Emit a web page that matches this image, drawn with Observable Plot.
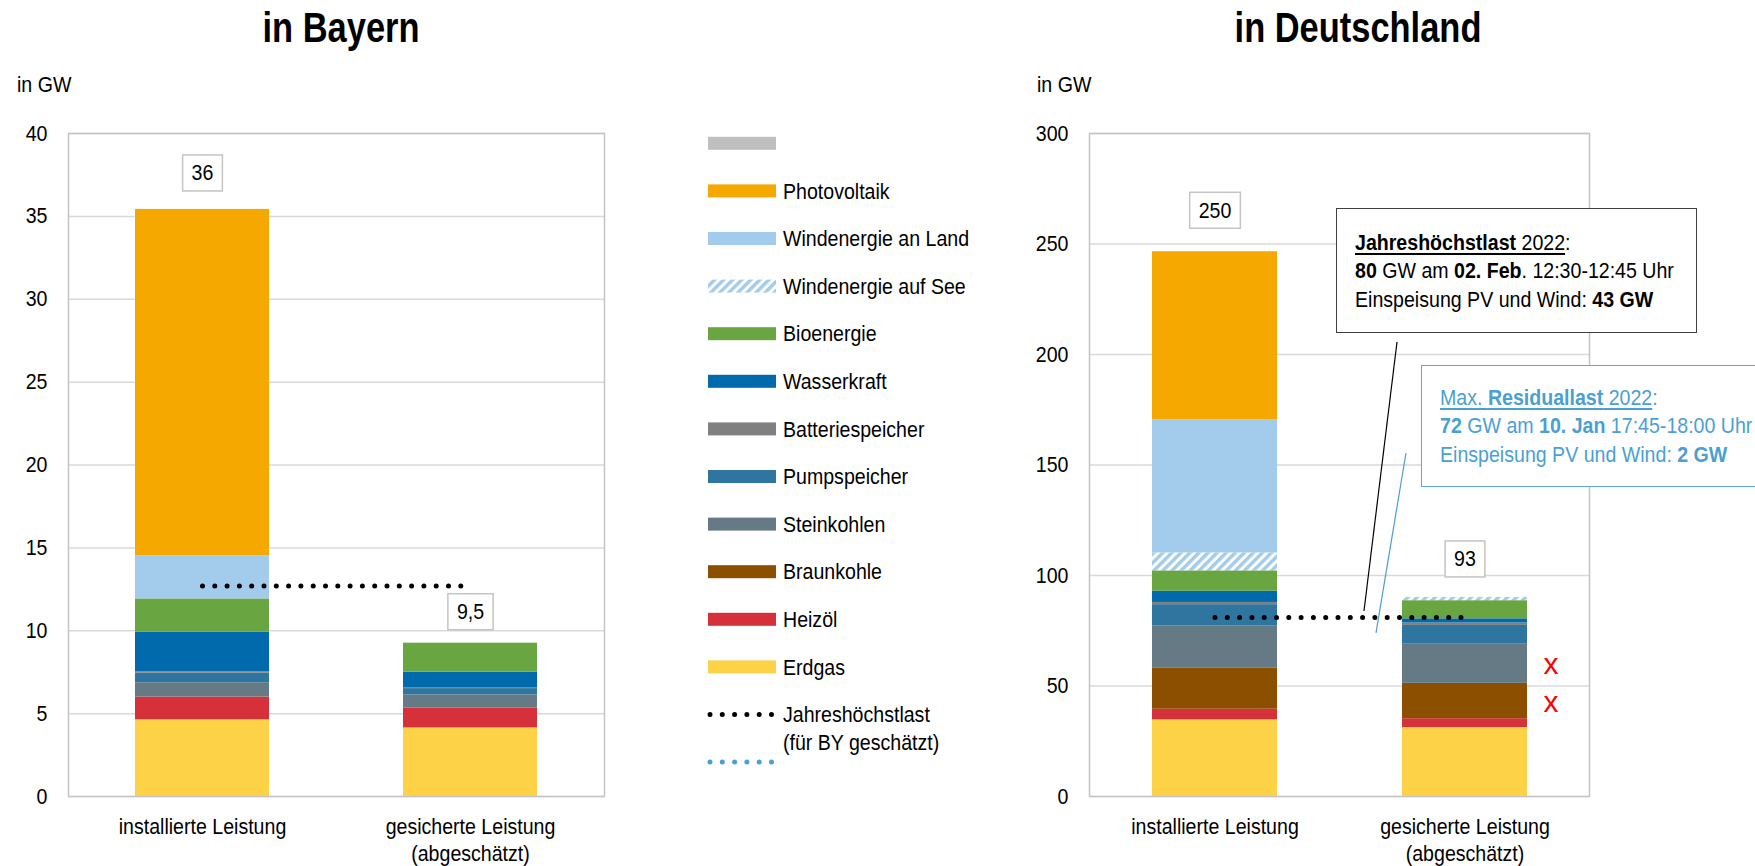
<!DOCTYPE html>
<html><head><meta charset="utf-8">
<script src="https://cdn.jsdelivr.net/npm/d3@7"></script>
<script src="https://cdn.jsdelivr.net/npm/@observablehq/plot@0.6"></script>
<style>
body{margin:0;background:#fff;}
#page{position:relative;width:1755px;height:866px;overflow:hidden;font-family:"Liberation Sans",Arial,sans-serif;color:#000;}
.abs{position:absolute;}
.title{font-weight:bold;font-size:42px;line-height:50px;text-align:center;width:500px;transform:scaleX(0.82);transform-origin:center;}
.unit{font-size:22px;line-height:28px;transform:scaleX(0.89);transform-origin:left;}
.note{box-sizing:border-box;background:#fff;font-size:22px;line-height:28.5px;white-space:nowrap;}
.note .in{display:inline-block;transform:scaleX(0.89);transform-origin:left top;}
.note u{text-decoration-thickness:1.5px;text-underline-offset:3px;}
</style></head><body><div id="page"></div>
<script>
const FONT = '"Liberation Sans",Arial,sans-serif';
const SQ = 0.89; // horizontal squeeze to mimic the narrow typeface

// ---- data ----
const bars = ["installierte Leistung", "gesicherte Leistung\n(abgeschätzt)"];
const sources = ["Erdgas","Heizöl","Braunkohle","Steinkohlen","Pumpspeicher","Batteriespeicher","Wasserkraft","Bioenergie","Windenergie auf See","Windenergie an Land","Photovoltaik"];
const colors  = ["#fdd247","#d6303a","#8c4f00","#667a86","#2e75a0","#808080","#006aad","#69a541","url(#hatch)","#a2cbec","#f5a800"];
const bayernInstalliert = [4.63, 1.37, 0, 0.86, 0.58, 0.08, 2.4, 2.0, 0, 2.6, 20.9];
const bayernGesichert   = [4.14, 1.19, 0, 0.80, 0.38, 0.06, 0.93, 1.75, 0, 0, 0];
const deInstalliert     = [34.7, 4.8, 18.5, 19.1, 9.7, 1.0, 5.1, 9.2, 8.1, 60.3, 76.0];
const deGesichert       = [31.2, 4.0, 16.0, 17.7, 8.5, 1.1, 1.9, 8.2, 1.5, 0, 0];
const bayernLabels = ["36", "9,5"];
const deLabels = ["250", "93"];
const bayernLast = 12.7;   // Jahreshöchstlast (geschätzt)
const deLast = 81;         // Jahreshöchstlast 2022
const deResidual = 72;     // Max. Residuallast 2022
const crossedOut = ["Steinkohlen", "Braunkohle"];
const bayernTicks = [0,5,10,15,20,25,30,35,40];
const deTicks = [0,50,100,150,200,250,300];

const page = document.getElementById("page");
function add(html, cls, css){ const d=document.createElement("div"); d.className="abs "+(cls||""); d.innerHTML=html; Object.assign(d.style, css); page.appendChild(d); return d; }
function squeeze(t, s){
  const x = +(t.getAttribute("x")||0);
  const tr = t.getAttribute("transform")||"";
  t.setAttribute("transform", `${tr} translate(${x},0) scale(${s},1) translate(${-x},0)`);
}

// hatch pattern
add(`<svg width="0" height="0" style="position:absolute"><defs><pattern id="hatch" patternUnits="userSpaceOnUse" width="6.4" height="6.4" patternTransform="rotate(45)"><rect width="6.4" height="6.4" fill="#fff"/><rect width="3.4" height="6.4" fill="#a2cbec"/></pattern></defs></svg>`, "", {left:"0px",top:"0px"});

function makeChart(cfg){
  const data = [];
  bars.forEach((b,i)=> sources.forEach((s,j)=> data.push({bar:b, source:s, value:cfg.values[i][j]})));
  const totals = bars.map((b,i)=>({bar:b, total:d3.sum(cfg.values[i]), label:cfg.labels[i]}));
  const lastData = bars.map(b=>({bar:b, y:cfg.last}));
  const marks = [
    Plot.gridY(cfg.ticks, {stroke:"#d9d9d9", strokeOpacity:1, strokeWidth:1.5}),
    Plot.barY(data, {x:"bar", y:"value", fill:"source"}),
    Plot.frame({stroke:"#c4c4c4", strokeWidth:1.5}),
    Plot.lineY(lastData, {x:"bar", y:"y", stroke:"#000", strokeWidth:5, strokeDasharray:"0 12.3", strokeLinecap:"round"}),
    Plot.axisY(cfg.ticks, {tickSize:0, tickPadding:21, label:null, tickFormat:d=>String(d)}),
    Plot.axisX({tickSize:0, tickPadding:19, label:null, lineHeight:1.2}),
    ...totals.map((t,i)=>Plot.text([t], {x:"bar", y:"total", text:"label", dy:cfg.labelDy[i], ariaDescription:"total"}))
  ];
  if (cfg.cross){
    const vals = cfg.values[1];
    const crossData = crossedOut.map(s=>{ const j=sources.indexOf(s); const lo=d3.sum(vals.slice(0,j)); return {bar:bars[1], y:lo+vals[j]/2, t:"x"}; });
    marks.push(Plot.text(crossData, {x:"bar", y:"y", text:"t", dx:86, dy:1, fill:"#ff0000", fontSize:30, ariaDescription:"cross"}));
  }
  const plot = Plot.plot({
    width:cfg.width, height:866,
    marginTop:133, marginBottom:70, marginLeft:cfg.ml, marginRight:cfg.mr,
    style:{fontFamily:FONT, fontSize:"22px", color:"#000", background:"transparent", overflow:"visible"},
    x:{domain:bars, paddingInner:0.5, paddingOuter:0.25, label:null},
    y:{domain:[0,cfg.yMax], label:null},
    color:{domain:sources, range:colors},
    marks
  });
  const wrap = add("", "", {left:cfg.left+"px", top:"0px"});
  wrap.appendChild(plot);
  // boxes behind total labels
  plot.querySelectorAll('g[aria-description="total"] text').forEach(t=>{
    const b = t.getBBox();
    const ax = +(t.getAttribute("x")||0);
    const cx = ax + (b.x + b.width/2 - ax)*SQ;
    const w = b.width*SQ + 18, h = 36;
    const r = document.createElementNS("http://www.w3.org/2000/svg","rect");
    r.setAttribute("x", cx - w/2); r.setAttribute("y", b.y + b.height/2 - h/2);
    r.setAttribute("width", w); r.setAttribute("height", h);
    r.setAttribute("fill","#fff"); r.setAttribute("stroke","#c4c4c4"); r.setAttribute("stroke-width","1.5");
    if (t.getAttribute("transform")) r.setAttribute("transform", t.getAttribute("transform"));
    t.parentNode.insertBefore(r, t);
  });
  plot.querySelectorAll("text").forEach(t=>{ if (t.closest('g[aria-description="cross"]')) return; squeeze(t, SQ); });
  return plot;
}

// titles and units
add("in Bayern", "title", {left:(341-250)+"px", top:"3px"});
add("in Deutschland", "title", {left:(1358-250)+"px", top:"3px"});
add("in GW", "unit", {left:"17px", top:"71px"});
add("in GW", "unit", {left:"1037px", top:"71px"});

makeChart({values:[bayernInstalliert,bayernGesichert], labels:bayernLabels, last:bayernLast, yMax:40, ticks:bayernTicks,
  width:640, left:0, ml:68, mr:36, labelDy:[-36,-31]});
const de = makeChart({values:[deInstalliert,deGesichert], labels:deLabels, last:deLast, yMax:300, ticks:deTicks,
  width:775, left:980, ml:109, mr:166, labelDy:[-41,-38], cross:true});

// legend
const legendItems = [{label:"", color:"#bfbfbf"}, ...sources.map((s,i)=>({label:s, color:colors[i]})).reverse(),
  {label:"Jahreshöchstlast", label2:"(für BY geschätzt)", dots:"#000"}, {label:"", dots:"#4a9fd3"}];
const tx = `transform="translate(83,0) scale(${SQ},1) translate(-83,0)"`;
let lg = `<svg width="260" height="680" style="overflow:visible;font-family:${FONT.replace(/"/g,"'")};font-size:22px">`;
legendItems.forEach((it,i)=>{
  const y = 23.3 + i*47.6;
  if (it.dots) lg += `<line x1="10" x2="72" y1="${y}" y2="${y}" stroke="${it.dots}" stroke-width="5" stroke-linecap="round" stroke-dasharray="0 12.3"/>`;
  else lg += `<rect x="8" y="${y-6.5}" width="68" height="13" fill="${it.color}"/>`;
  if (it.label) lg += `<text x="83" y="${y}" dy="0.35em" ${tx}>${it.label}</text>`;
  if (it.label2) lg += `<text x="83" y="${y+28}" dy="0.35em" ${tx}>${it.label2}</text>`;
});
lg += `</svg>`;
add(lg, "", {left:"700px", top:"120px"});

// annotations
add(`<span class="in"><u><b>Jahreshöchstlast</b> 2022</u>:<br><b>80</b> GW am <b>02. Feb</b>. 12:30-12:45 Uhr<br>Einspeisung PV und Wind: <b>43 GW</b></span>`,
  "note", {left:"1336px", top:"208px", width:"361px", height:"125px", border:"1.5px solid #3f3f3f", padding:"19.5px 0 0 17.5px"});
add(`<span class="in"><u>Max. <b>Residuallast</b> 2022</u>:<br><b>72</b> GW am <b>10. Jan</b> 17:45-18:00 Uhr<br>Einspeisung PV und Wind: <b>2 GW</b></span>`,
  "note", {left:"1421px", top:"365px", width:"345px", height:"122px", border:"1.5px solid #5fa9d6", color:"#4a9fd3", padding:"17.6px 0 0 17.5px"});

// leader lines
const ys = de.scale("y");
const yBlack = ys.apply(deLast) - 6, yBlue = ys.apply(deResidual) - 4;
add(`<svg width="1755" height="866" style="position:absolute;left:0;top:0;overflow:visible">
  <line x1="1397" y1="342" x2="1364" y2="${yBlack}" stroke="#000" stroke-width="1.2"/>
  <line x1="1406" y1="453" x2="1376" y2="${yBlue}" stroke="#4a9fd3" stroke-width="1.2"/></svg>`, "", {left:"0px", top:"0px", pointerEvents:"none"});
</script></body></html>
